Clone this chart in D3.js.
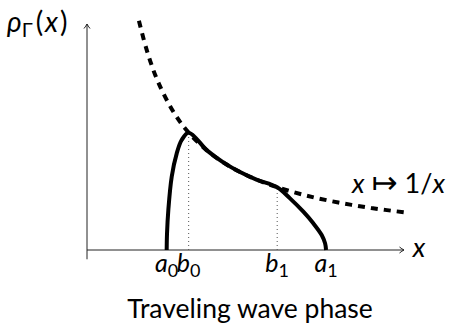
<!DOCTYPE html>
<html>
<head>
<meta charset="utf-8">
<script src="https://cdn.jsdelivr.net/npm/d3@7"></script>
<style>
  body { margin: 0; background: #fff; }
  svg text { font-family: Lato, "Open Sans", sans-serif; fill: #000; }
</style>
</head>
<body>
<div id="chart"></div>
<script>
// dashed reference curve x -> 1/x
const refX = [0.475, 0.55, 0.65, 0.8, 0.93, 1.1, 1.25, 1.4, 1.55, 1.74, 2.0, 2.3, 2.6, 2.91];
const refY = [2.10, 1.82, 1.54, 1.25, 1.075, 0.91, 0.80, 0.714, 0.645, 0.575, 0.50, 0.435, 0.385, 0.344];

// solid traveling-wave profile
const waveX = [0.729, 0.732, 0.744, 0.775, 0.821, 0.866, 0.93, 1.1, 1.25, 1.4, 1.55, 1.74, 1.857, 1.979, 2.07, 2.147, 2.178, 2.187];
const waveY = [0, 0.15, 0.366, 0.671, 0.885, 1.007, 1.075, 0.91, 0.80, 0.714, 0.645, 0.575, 0.473, 0.351, 0.245, 0.137, 0.061, 0];

// marked points on the x axis
const tickLetters = ['a', 'b', 'b', 'a'];
const tickSubs = ['0', '0', '1', '1'];
const tickPos = [0.729, 0.93, 1.74, 2.187];
const dottedAt = [0.93, 1.74];
const dottedTop = [1.075, 0.575];

const W = 462, H = 324;
const svg = d3.select('#chart').append('svg')
  .attr('width', W)
  .attr('height', H);

const x = d3.scaleLinear().domain([0, 2.9]).range([87, 404]);
const y = d3.scaleLinear().domain([0, 2.07]).range([250, 24]);

// axes
const axes = svg.append('g')
  .attr('stroke', '#222')
  .attr('stroke-width', 1)
  .attr('fill', 'none');

axes.append('line')
  .attr('x1', x(0)).attr('y1', y(-0.085))
  .attr('x2', x(0)).attr('y2', y(2.07));
axes.append('line')
  .attr('x1', x(0)).attr('y1', y(0))
  .attr('x2', x(2.9)).attr('y2', y(0));

// small open arrow heads
axes.append('path')
  .attr('d', `M${x(0) - 3},${y(2.07) + 4.5} Q${x(0) - 1},${y(2.07) + 2} ${x(0)},${y(2.07)} Q${x(0) + 1},${y(2.07) + 2} ${x(0) + 3},${y(2.07) + 4.5}`);
axes.append('path')
  .attr('d', `M${x(2.9) - 4.5},${y(0) - 3} Q${x(2.9) - 2},${y(0) - 1} ${x(2.9)},${y(0)} Q${x(2.9) - 2},${y(0) + 1} ${x(2.9) - 4.5},${y(0) + 3}`);

// dotted guides
svg.append('g').selectAll('line')
  .data(dottedAt)
  .enter().append('line')
  .attr('x1', d => x(d)).attr('x2', d => x(d))
  .attr('y1', y(0))
  .attr('y2', (d, i) => y(dottedTop[i]))
  .attr('stroke', '#555')
  .attr('stroke-width', 1)
  .attr('stroke-dasharray', '1,3');

svg.append('path')
  .datum(refX.map((v, i) => [v, refY[i]]))
  .attr('d', d3.line().x(d => x(d[0])).y(d => y(d[1])).curve(d3.curveCatmullRom))
  .attr('fill', 'none')
  .attr('stroke', '#000')
  .attr('stroke-width', 4)
  .attr('stroke-dasharray', '7,6');

const pts = waveX.map((v, i) => [v, waveY[i]]);
svg.append('path')
  .datum(pts)
  .attr('d', d3.line().x(d => x(d[0])).y(d => y(d[1])).curve(d3.curveCatmullRom.alpha(0.5)))
  .attr('fill', 'none')
  .attr('stroke', '#000')
  .attr('stroke-width', 4)
  .attr('stroke-linejoin', 'round');

// tick labels
const labels = svg.append('g')
  .attr('font-size', 25)
  .attr('text-anchor', 'middle')
  .selectAll('text')
  .data(tickPos)
  .enter().append('text')
  .attr('x', d => x(d))
  .attr('y', 272);
labels.append('tspan')
  .attr('font-style', 'italic')
  .text((d, i) => tickLetters[i]);
labels.append('tspan')
  .attr('font-size', 18)
  .attr('dy', 5)
  .text((d, i) => tickSubs[i]);

// axis names
const yLab = svg.append('text')
  .attr('x', 7)
  .attr('y', 32)
  .attr('font-size', 28);
yLab.append('tspan').attr('font-style', 'italic').text('ρ');
yLab.append('tspan').attr('font-size', 20).attr('dy', 5).text('Γ');
yLab.append('tspan').attr('dy', -5).attr('dx', 3).text('(');
yLab.append('tspan').attr('font-style', 'italic').attr('dx', 2).text('x');
yLab.append('tspan').attr('dx', 2).text(')');

svg.append('text')
  .attr('x', 419)
  .attr('y', 257)
  .attr('font-size', 27)
  .attr('font-style', 'italic')
  .attr('text-anchor', 'middle')
  .text('x');

const fLab = svg.append('text')
  .attr('x', 352)
  .attr('y', 193)
  .attr('font-size', 27);
fLab.append('tspan').attr('font-style', 'italic').text('x');
fLab.append('tspan').attr('dx', 7).attr('font-family', 'DejaVu Sans').attr('font-size', 31).text('↦');
fLab.append('tspan').attr('dx', 7).text('1/');
fLab.append('tspan').attr('font-style', 'italic').text('x');

svg.append('text')
  .attr('x', 250)
  .attr('y', 318)
  .attr('font-size', 26.5)
  .attr('text-anchor', 'middle')
  .text('Traveling wave phase');
</script>
</body>
</html>
